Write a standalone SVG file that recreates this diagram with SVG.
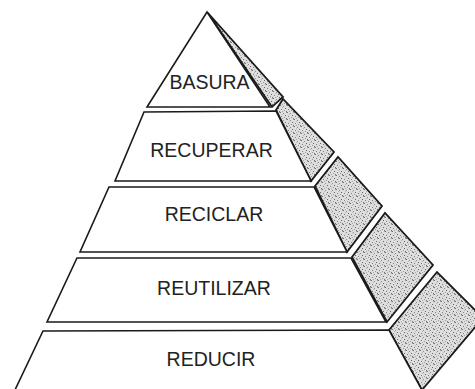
<svg xmlns="http://www.w3.org/2000/svg" width="475" height="389" viewBox="0 0 475 389">
  <style>
    .front { fill: #ffffff; stroke: #1a1a1a; stroke-width: 1.6; stroke-linejoin: miter; }
    .side { fill: url(#stipple); stroke: #1a1a1a; stroke-width: 1.8; stroke-linejoin: miter; }
    .label { font-family: "Liberation Sans", Arial, sans-serif; font-size: 19.5px; fill: #222222; text-anchor: middle; }
  </style>
  <defs>
    <pattern id="stipple" width="7" height="7" patternUnits="userSpaceOnUse">
      <rect width="7" height="7" fill="#dedede"/>
      <rect x="0" y="0" width="1" height="1" fill="#707070"/>
      <rect x="3" y="1" width="1" height="1" fill="#8c8c8c"/>
      <rect x="5" y="3" width="1" height="1" fill="#666666"/>
      <rect x="1" y="4" width="1" height="1" fill="#808080"/>
      <rect x="4" y="5" width="1" height="1" fill="#989898"/>
      <rect x="6" y="6" width="1" height="1" fill="#747474"/>
      <rect x="2" y="6" width="1" height="1" fill="#a8a8a8"/>
      <rect x="6" y="0" width="1" height="1" fill="#a2a2a2"/>
      <rect x="2" y="2" width="1" height="1" fill="#b8b8b8"/>
    </pattern>
  </defs>
  <rect width="475" height="389" fill="#ffffff"/>

  <g id="basura">
    <polygon class="side" points="208,13 283,97 272,107"/>
    <polygon class="front" points="207,12 270,107 147,107"/>
    <text class="label" x="209.5" y="89">BASURA</text>
  </g>

  <g id="recuperar">
    <polygon class="side" points="276,110 283,99 334,152 311,181"/>
    <polygon class="front" points="144,112 276,111 311,181 115,181"/>
    <text class="label" x="211.5" y="157">RECUPERAR</text>
  </g>

  <g id="reciclar">
    <polygon class="side" points="315,186 338,157 382,206 347,252"/>
    <polygon class="front" points="109,187 314,187 347,252 80,252"/>
    <text class="label" x="214" y="221">RECICLAR</text>
  </g>

  <g id="reutilizar">
    <polygon class="side" points="352,257 385,213 433,265 387,322"/>
    <polygon class="front" points="77,258 351,258 386,322 47,322"/>
    <text class="label" x="214" y="295">REUTILIZAR</text>
  </g>

  <g id="reducir">
    <polygon class="side" points="389,330 437,272 483,318 422,390"/>
    <polygon class="front" points="43,331 389,330 423,392 14,392"/>
    <text class="label" x="211" y="366">REDUCIR</text>
  </g>

  <g id="connectors"/>
</svg>
